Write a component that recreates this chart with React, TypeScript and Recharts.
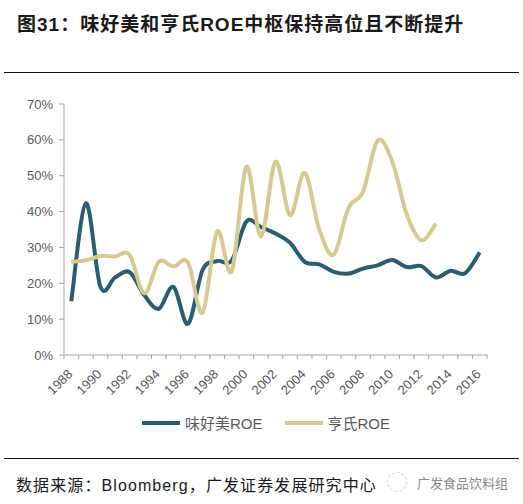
import { LineChart, Line, XAxis, YAxis } from 'recharts'

const years = [
  '1988', '1989', '1990', '1991', '1992', '1993', '1994', '1995', '1996', '1997',
  '1998', '1999', '2000', '2001', '2002', '2003', '2004', '2005', '2006', '2007',
  '2008', '2009', '2010', '2011', '2012', '2013', '2014', '2015', '2016',
]

// 味好美 ROE (%)
const mccormickRoe = [
  15, 42.3, 19, 21.6, 23.1, 16.7, 12.9, 19, 8.7, 23.7,
  26.2, 26.4, 37.2, 35.7, 33.9, 31.3, 26, 25.3, 23.2, 22.7,
  24.1, 25, 26.5, 24.5, 24.8, 21.6, 23.5, 22.8, 28.6,
]

// 亨氏 ROE (%), no data after 2013
const heinzRoe: (number | null)[] = [
  26, 26.4, 27.6, 27.5, 27.9, 17.2, 26, 24.7, 25.8, 11.8,
  34.4, 23.4, 52.5, 33, 53.9, 39, 50.8, 35, 28, 41,
  45.5, 59.8, 54, 39.2, 32, 36.6, null, null, null,
]

const yTicks = [0, 10, 20, 30, 40, 50, 60, 70]

const data = years.map((year, i) => ({
  year,
  mccormick: mccormickRoe[i],
  heinz: heinzRoe[i],
}))

const DARK = '#2b5d71'
const KHAKI = '#d5cb92'
const AXIS = '#a6a6a6'
const LABEL = '#595959'
const FONT = '"Liberation Sans", Arial, "Noto Sans CJK SC", sans-serif'

const PLOT_LEFT = 64
const PLOT_RIGHT = 487
const HALF_BAND = (PLOT_RIGHT - PLOT_LEFT) / years.length / 2

// Excel-style smoothed line (Catmull-Rom through every point)
function excelSmooth(context: any) {
  let pts: [number, number][] = []
  return {
    areaStart() {},
    areaEnd() {},
    lineStart() {
      pts = []
    },
    lineEnd() {
      if (!pts.length) return
      context.moveTo(pts[0][0], pts[0][1])
      for (let i = 0; i < pts.length - 1; i++) {
        const p0 = pts[i - 1] || pts[i]
        const p1 = pts[i]
        const p2 = pts[i + 1]
        const p3 = pts[i + 2] || p2
        context.bezierCurveTo(
          p1[0] + (p2[0] - p0[0]) / 6,
          p1[1] + (p2[1] - p0[1]) / 6,
          p2[0] - (p3[0] - p1[0]) / 6,
          p2[1] - (p3[1] - p1[1]) / 6,
          p2[0],
          p2[1],
        )
      }
    },
    point(x: number, y: number) {
      pts.push([x, y])
    },
  }
}

function YearTick(props: any) {
  const { x, y, payload, index } = props
  const last = index === years.length - 1
  const showLabel = Number(payload.value) % 2 === 0
  return (
    <g>
      <line x1={x - HALF_BAND} y1={y} x2={x - HALF_BAND} y2={y + 4} stroke={AXIS} />
      {last && <line x1={x + HALF_BAND} y1={y} x2={x + HALF_BAND} y2={y + 4} stroke={AXIS} />}
      {showLabel && (
        <text
          x={x + 2}
          y={y + 20}
          textAnchor="end"
          transform={`rotate(-45, ${x + 2}, ${y + 20})`}
          fontSize={13}
          fontFamily={FONT}
          fill={LABEL}
        >
          {payload.value}
        </text>
      )}
    </g>
  )
}

function LegendItem({ color, label }: { color: string; label: string }) {
  return (
    <div style={{ display: 'flex', alignItems: 'center', gap: 5 }}>
      <div style={{ width: 38, height: 4, background: color }} />
      <span>{label}</span>
    </div>
  )
}

export default function App() {
  return (
    <div
      style={{
        position: 'absolute',
        left: 0,
        top: 0,
        width: 523,
        height: 504,
        background: '#fff',
        fontFamily: FONT,
        overflow: 'hidden',
      }}
    >
      <div
        style={{
          position: 'absolute',
          left: 17,
          top: 9,
          fontSize: 19,
          fontWeight: 700,
          letterSpacing: 1,
          color: '#1a1a1a',
          whiteSpace: 'nowrap',
        }}
      >
        图31：味好美和亨氏ROE中枢保持高位且不断提升
      </div>
      <div style={{ position: 'absolute', left: 4, top: 72, width: 515, height: 1, background: '#111' }} />

      <div style={{ position: 'absolute', left: 0, top: 90 }}>
        <LineChart
          width={523}
          height={320}
          data={data}
          margin={{ top: 14, right: 523 - PLOT_RIGHT, left: PLOT_LEFT - 40, bottom: 0 }}
        >
          <XAxis
            dataKey="year"
            scale="band"
            interval={0}
            height={55}
            tickSize={0}
            tickMargin={0}
            tickLine={false}
            axisLine={{ stroke: AXIS }}
            tick={<YearTick />}
          />
          <YAxis
            width={40}
            domain={[0, 70]}
            ticks={yTicks}
            tickFormatter={(v) => `${v}%`}
            tickSize={5}
            tickMargin={6}
            axisLine={{ stroke: AXIS }}
            tickLine={{ stroke: AXIS }}
            tick={{ fontSize: 13, fill: LABEL, fontFamily: FONT }}
          />
          <Line
            dataKey="mccormick"
            type={excelSmooth as any}
            stroke={DARK}
            strokeWidth={4}
            dot={false}
            activeDot={false}
            isAnimationActive={false}
          />
          <Line
            dataKey="heinz"
            type={excelSmooth as any}
            stroke={KHAKI}
            strokeWidth={4}
            dot={false}
            activeDot={false}
            isAnimationActive={false}
          />
        </LineChart>
      </div>

      <div
        style={{
          position: 'absolute',
          left: 142,
          top: 412,
          display: 'flex',
          gap: 22,
          fontSize: 15,
          color: LABEL,
          whiteSpace: 'nowrap',
        }}
      >
        <LegendItem color={DARK} label="味好美ROE" />
        <LegendItem color={KHAKI} label="亨氏ROE" />
      </div>

      <div style={{ position: 'absolute', left: 4, top: 458, width: 515, height: 1, background: '#111' }} />
      <div
        style={{
          position: 'absolute',
          left: 16,
          top: 472,
          fontSize: 16,
          letterSpacing: 1.1,
          color: '#1a1a1a',
          whiteSpace: 'nowrap',
        }}
      >
        数据来源：Bloomberg，广发证券发展研究中心
      </div>
      <div
        style={{
          position: 'absolute',
          left: 387,
          top: 472,
          display: 'flex',
          alignItems: 'center',
          gap: 10,
          fontSize: 13,
          color: '#8a8a8a',
          whiteSpace: 'nowrap',
        }}
      >
        <div style={{ width: 18, height: 18, borderRadius: 10, border: '1px dashed #cfcfcf' }} />
        <span>广发食品饮料组</span>
      </div>
    </div>
  )
}
